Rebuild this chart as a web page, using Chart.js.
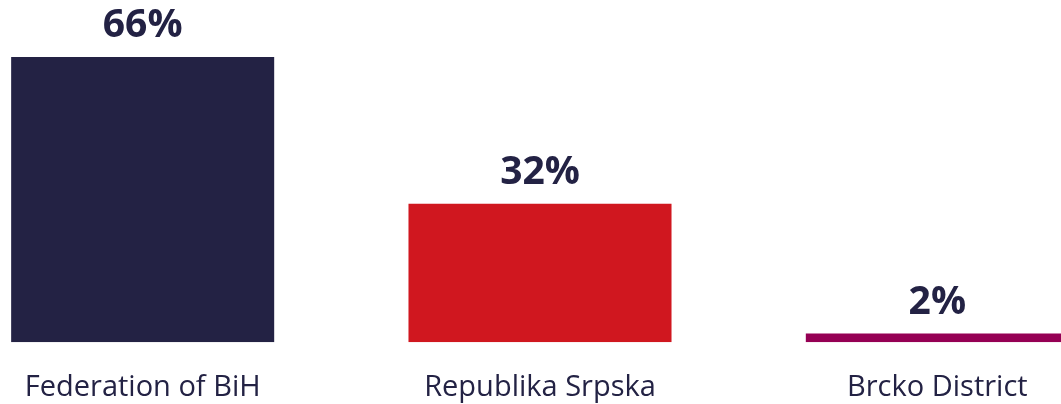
<!DOCTYPE html>
<html>
<head>
<meta charset="utf-8">
<script src="https://cdn.jsdelivr.net/npm/chart.js@4.4.0/dist/chart.umd.min.js"></script>
<style>
  html, body { margin: 0; padding: 0; background: #fff; overflow: hidden; }
  #wrap { position: relative; width: 1061px; height: 404px; overflow: hidden; }
  /* canvas is wider than the page so the last bar runs off the right edge */
  #chart { position: absolute; left: -56px; top: 0; }
</style>
</head>
<body>
<div id="wrap">
  <canvas id="chart" width="1192" height="425"></canvas>
</div>
<script>
var regions = ["Federation of BiH", "Republika Srpska", "Brcko District"];
var shares = [66, 32, 2];
var barColors = ["#232244", "#d0171f", "#950054"];

var textColor = "#232244";

// draws the percentage above every bar
var valueLabels = {
  id: "valueLabels",
  afterDatasetsDraw: function(chart) {
    var ctx = chart.ctx;
    var meta = chart.getDatasetMeta(0);
    ctx.save();
    ctx.font = "bold 39px 'Open Sans'";
    ctx.fillStyle = textColor;
    ctx.textAlign = "center";
    ctx.textBaseline = "alphabetic";
    meta.data.forEach(function(bar, i) {
      ctx.fillText(shares[i] + "%", bar.x, bar.y - 20);
    });
    ctx.restore();
  }
};

var chart = new Chart(document.getElementById("chart"), {
  type: "bar",
  data: {
    labels: regions,
    datasets: [{
      data: shares,
      backgroundColor: barColors,
      borderWidth: 0,
      categoryPercentage: 1,
      barPercentage: 0.662
    }]
  },
  options: {
    responsive: false,
    animation: false,
    devicePixelRatio: 1,
    layout: { padding: { top: 18, bottom: 0 } },
    plugins: {
      legend: { display: false },
      tooltip: { enabled: false }
    },
    scales: {
      x: {
        grid: { display: false },
        border: { display: false },
        ticks: {
          color: textColor,
          padding: 20,
          font: { family: "'Open Sans'", size: 29 }
        }
      },
      y: {
        display: false,
        min: 0,
        max: 75
      }
    }
  },
  plugins: [valueLabels]
});
</script>
</body>
</html>
